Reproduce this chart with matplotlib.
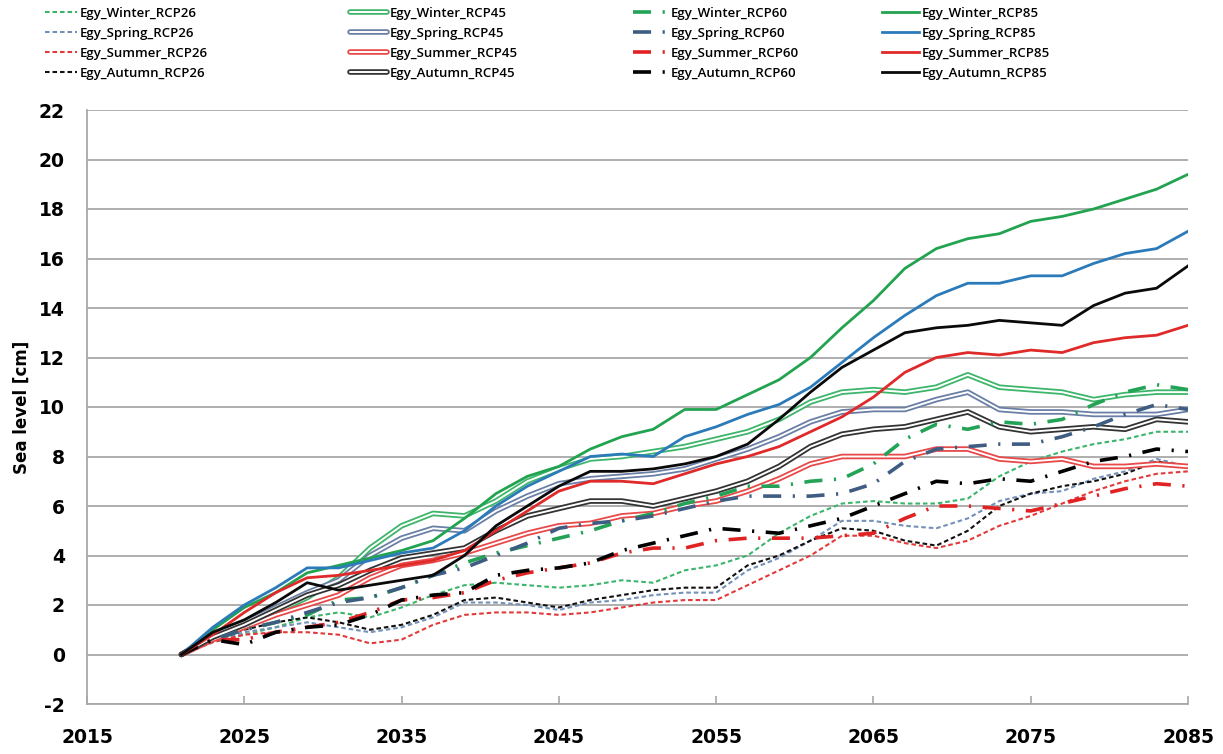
import matplotlib
matplotlib.use("Agg")
import matplotlib.pyplot as plt
import matplotlib.patheffects as pe

plt.rcParams["axes.unicode_minus"] = False

years = list(range(2021, 2086, 2))

# RCP26 (dashed)
winter_26 = [0, 0.5, 0.8, 1.1, 1.5, 1.7, 1.5, 1.9, 2.4, 2.8, 2.9, 2.8, 2.7, 2.8, 3.0, 2.9, 3.4,
             3.6, 4.0, 4.9, 5.6, 6.1, 6.2, 6.1, 6.1, 6.3, 7.2, 7.8, 8.2, 8.5, 8.7, 9.0, 9.0]
spring_26 = [0, 0.5, 0.9, 1.1, 1.3, 1.1, 0.9, 1.1, 1.5, 2.1, 2.1, 2.0, 1.8, 2.1, 2.2, 2.4, 2.5,
             2.5, 3.4, 3.9, 4.6, 5.4, 5.4, 5.2, 5.1, 5.5, 6.2, 6.5, 6.6, 7.1, 7.4, 7.9, 7.6]
summer_26 = [0, 0.5, 0.8, 0.9, 0.9, 0.8, 0.45, 0.6, 1.2, 1.6, 1.7, 1.7, 1.6, 1.7, 1.9, 2.1, 2.2,
             2.2, 2.8, 3.4, 4.0, 4.8, 4.8, 4.5, 4.3, 4.6, 5.2, 5.6, 6.1, 6.6, 7.0, 7.3, 7.4]
autumn_26 = [0, 0.6, 1.0, 1.3, 1.5, 1.3, 1.0, 1.2, 1.6, 2.2, 2.3, 2.1, 1.9, 2.2, 2.4, 2.6, 2.7,
             2.7, 3.6, 4.0, 4.6, 5.1, 5.0, 4.6, 4.4, 5.0, 6.0, 6.5, 6.8, 7.0, 7.3, 7.8, 7.6]

# RCP45 (double line)
winter_45 = [0, 0.7, 1.2, 1.7, 2.3, 3.1, 4.3, 5.2, 5.7, 5.6, 6.2, 7.0, 7.5, 7.9, 8.0, 8.2, 8.4,
             8.7, 9.0, 9.5, 10.2, 10.6, 10.7, 10.6, 10.8, 11.3, 10.8, 10.7, 10.6, 10.3, 10.5, 10.6, 10.6]
spring_45 = [0, 0.8, 1.3, 1.9, 2.5, 3.0, 4.0, 4.7, 5.1, 5.0, 5.8, 6.4, 6.9, 7.1, 7.2, 7.3, 7.5,
             7.9, 8.3, 8.8, 9.4, 9.8, 9.9, 9.9, 10.3, 10.6, 9.9, 9.8, 9.8, 9.7, 9.7, 9.7, 9.9]
summer_45 = [0, 0.6, 1.1, 1.6, 2.0, 2.4, 3.1, 3.6, 3.8, 4.1, 4.5, 4.9, 5.2, 5.3, 5.6, 5.7, 6.0,
             6.2, 6.6, 7.1, 7.7, 8.0, 8.0, 8.0, 8.3, 8.3, 7.9, 7.8, 7.9, 7.6, 7.6, 7.7, 7.6]
autumn_45 = [0, 0.7, 1.2, 1.8, 2.4, 2.8, 3.4, 3.9, 4.1, 4.3, 5.0, 5.6, 5.9, 6.2, 6.2, 6.0, 6.3,
             6.6, 7.0, 7.6, 8.4, 8.9, 9.1, 9.2, 9.5, 9.8, 9.2, 9.0, 9.1, 9.2, 9.1, 9.5, 9.4]

# RCP60 (dash-dot)
winter_60 = [0, 0.6, 1.0, 1.3, 1.6, 2.2, 2.3, 2.7, 3.2, 3.7, 4.1, 4.4, 4.7, 5.0, 5.4, 5.7, 6.1,
             6.4, 6.8, 6.8, 7.0, 7.1, 7.7, 8.7, 9.3, 9.1, 9.4, 9.3, 9.5, 10.1, 10.6, 10.9, 10.7]
spring_60 = [0, 0.6, 1.0, 1.3, 1.7, 2.1, 2.3, 2.7, 3.2, 3.5, 4.0, 4.5, 5.1, 5.3, 5.4, 5.6, 5.9,
             6.2, 6.4, 6.4, 6.4, 6.5, 6.9, 7.8, 8.3, 8.4, 8.5, 8.5, 8.8, 9.2, 9.7, 10.1, 9.9]
summer_60 = [0, 0.6, 0.6, 0.9, 1.1, 1.3, 1.7, 2.2, 2.3, 2.5, 3.0, 3.3, 3.5, 3.7, 4.1, 4.3, 4.3,
             4.6, 4.7, 4.7, 4.7, 4.8, 4.9, 5.5, 6.0, 6.0, 5.9, 5.8, 6.1, 6.4, 6.7, 6.9, 6.8]
autumn_60 = [0, 0.6, 0.4, 0.9, 1.1, 1.2, 1.6, 2.2, 2.4, 2.5, 3.2, 3.4, 3.5, 3.7, 4.2, 4.5, 4.8,
             5.1, 5.0, 4.9, 5.2, 5.5, 6.0, 6.5, 7.0, 6.9, 7.1, 7.0, 7.4, 7.8, 8.0, 8.3, 8.2]

# RCP85 (solid)
winter_85 = [0, 1.0, 1.9, 2.5, 3.3, 3.6, 3.9, 4.2, 4.6, 5.5, 6.5, 7.2, 7.6, 8.3, 8.8, 9.1, 9.9,
             9.9, 10.5, 11.1, 12.0, 13.2, 14.3, 15.6, 16.4, 16.8, 17.0, 17.5, 17.7, 18.0, 18.4, 18.8, 19.4]
spring_85 = [0, 1.1, 2.0, 2.7, 3.5, 3.5, 3.8, 4.1, 4.3, 5.0, 6.0, 6.8, 7.4, 8.0, 8.1, 8.0, 8.8,
             9.2, 9.7, 10.1, 10.8, 11.8, 12.8, 13.7, 14.5, 15.0, 15.0, 15.3, 15.3, 15.8, 16.2, 16.4, 17.1]
summer_85 = [0, 0.8, 1.7, 2.5, 3.1, 3.2, 3.4, 3.6, 3.8, 4.2, 5.0, 5.8, 6.6, 7.0, 7.0, 6.9, 7.3,
             7.7, 8.0, 8.4, 9.0, 9.6, 10.4, 11.4, 12.0, 12.2, 12.1, 12.3, 12.2, 12.6, 12.8, 12.9, 13.3]
autumn_85 = [0, 0.9, 1.4, 2.1, 2.9, 2.6, 2.8, 3.0, 3.2, 4.0, 5.2, 6.0, 6.8, 7.4, 7.4, 7.5, 7.7,
             8.0, 8.5, 9.5, 10.6, 11.6, 12.3, 13.0, 13.2, 13.3, 13.5, 13.4, 13.3, 14.1, 14.6, 14.8, 15.7]

seasons = ["Winter", "Spring", "Summer", "Autumn"]
scenarios = ["RCP26", "RCP45", "RCP60", "RCP85"]
data = {
    "RCP26": [winter_26, spring_26, summer_26, autumn_26],
    "RCP45": [winter_45, spring_45, summer_45, autumn_45],
    "RCP60": [winter_60, spring_60, summer_60, autumn_60],
    "RCP85": [winter_85, spring_85, summer_85, autumn_85],
}

colors = {
    "RCP26": ["#3bb56c", "#7391b8", "#e23a3a", "#111111"],
    "RCP45": ["#3db56a", "#6a7fa6", "#e84848", "#333333"],
    "RCP60": ["#22a355", "#3f5d82", "#e02222", "#000000"],
    "RCP85": ["#22a350", "#2b7bba", "#e02a2a", "#0a0a0a"],
}

xticks = [2015, 2025, 2035, 2045, 2055, 2065, 2075, 2085]
yticks = list(range(-2, 23, 2))

W, H = 1223, 754
fig = plt.figure(figsize=(W / 100, H / 100), dpi=100)
ax = fig.add_axes([87 / W, 1 - 704 / H, (1188 - 87) / W, (704 - 110) / H])

handles = {s: [] for s in scenarios}
for scen in scenarios:
    for i, season in enumerate(seasons):
        c = colors[scen][i]
        label = f"Egy_{season}_{scen}"
        if scen == "RCP26":
            ln, = ax.plot(years, data[scen][i], color=c, lw=1.5,
                          linestyle=(0, (2.2, 1.4)), label=label)
        elif scen == "RCP45":
            ln, = ax.plot(years, data[scen][i], color="white", lw=1.4,
                          solid_capstyle="round", label=label,
                          path_effects=[pe.Stroke(linewidth=4.0, foreground=c), pe.Normal()])
        elif scen == "RCP60":
            ln, = ax.plot(years, data[scen][i], color=c, lw=2.6,
                          linestyle=(0, (5, 3.2, 0.6, 3.2)), label=label)
        else:
            ln, = ax.plot(years, data[scen][i], color=c, lw=2.0, label=label)
        handles[scen].append(ln)

ax.set_xlim(2015, 2085)
ax.set_ylim(-2, 22)
ax.set_xticks(xticks)
ax.set_yticks(yticks)
ax.yaxis.grid(True, color="#a8a8a8", lw=1.3)
ax.set_axisbelow(True)
for side in ["top", "right"]:
    ax.spines[side].set_visible(False)
for side in ["left", "bottom"]:
    ax.spines[side].set_color("#a8a8a8")
    ax.spines[side].set_linewidth(1.3)
ax.tick_params(axis="x", direction="in", length=6, color="#a8a8a8", width=1.2, pad=17,
               labelsize=13.5)
ax.tick_params(axis="y", length=0, pad=16, labelsize=13.5)
for lab in ax.get_xticklabels() + ax.get_yticklabels():
    lab.set_fontweight("bold")
ax.set_ylabel("Sea level [cm]", fontsize=12, fontweight="bold", labelpad=6)

leg_x = [45, 350, 633, 882]
hl = [2.4, 2.8, 2.6, 2.8]
for k, scen in enumerate(scenarios):
    fig.legend(handles=handles[scen], loc="upper left",
               bbox_to_anchor=(leg_x[k] / W, 1 - 7 / H),
               frameon=False, borderpad=0, borderaxespad=0,
               prop={"family": ["Open Sans", "DejaVu Sans"], "size": 9.5, "weight": 600},
               handlelength=hl[k], handletextpad=0.25, labelspacing=0.52)

fig.savefig("out.png", dpi=100)
